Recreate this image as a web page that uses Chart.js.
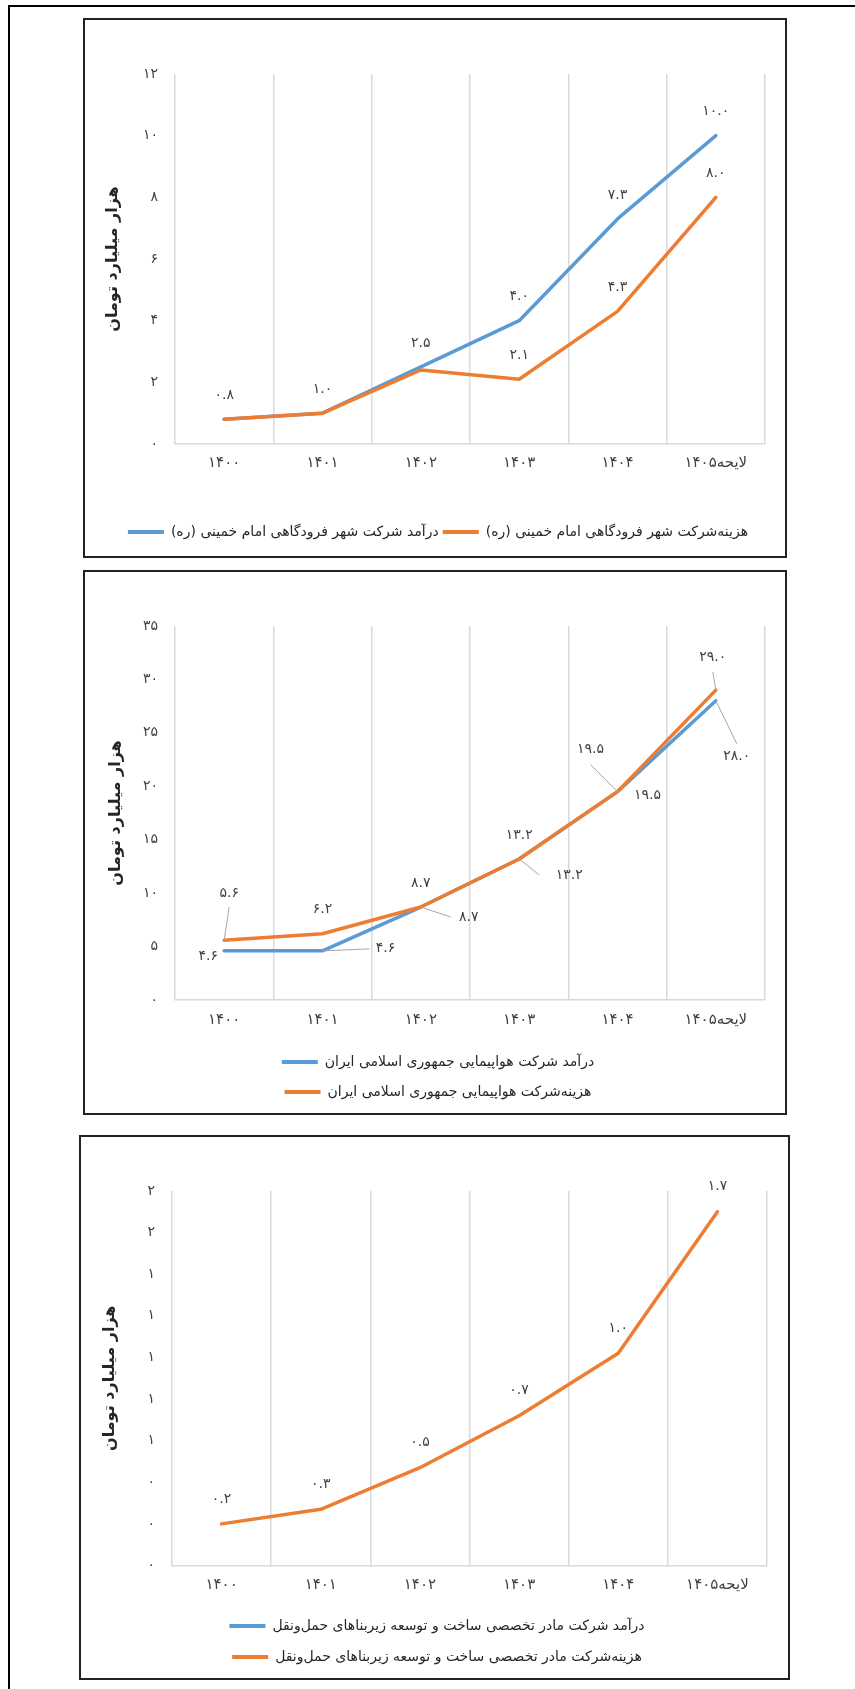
<!DOCTYPE html>
<html>
<head>
<meta charset="utf-8">
<script src="https://cdn.jsdelivr.net/npm/chart.js@4.4.1/dist/chart.umd.min.js"></script>
<style>
  body { margin: 0; background: #fff; width: 855px; height: 1689px; position: relative; overflow: hidden; }
  .frame { position: absolute; left: 8px; top: 5px; width: 900px; height: 1750px; border-left: 2px solid #000; border-top: 2px solid #000; }
  .box { position: absolute; border: 2px solid #222; box-sizing: border-box; background: #fff; }
  .box canvas { display: block; }
</style>
</head>
<body>
<div class="frame"></div>
<div class="box" style="left:83px;top:18px;width:704px;height:540px"><canvas id="chart1" width="700" height="536"></canvas></div>
<div class="box" style="left:83px;top:570px;width:704px;height:545px"><canvas id="chart2" width="700" height="541"></canvas></div>
<div class="box" style="left:79px;top:1135px;width:711px;height:545px"><canvas id="chart3" width="707" height="541"></canvas></div>
<script>
// categories (years), the last one is the budget bill
const years = ['۱۴۰۰', '۱۴۰۱', '۱۴۰۲', '۱۴۰۳', '۱۴۰۴', 'لایحه۱۴۰۵'];
const yAxisTitle = 'هزار میلیارد تومان';

// chart 1 - Imam Khomeini airport city company
const ikaNames = ['درآمد شرکت شهر فرودگاهی امام خمینی (ره)', 'هزینه‌شرکت شهر فرودگاهی امام خمینی (ره)'];
const ikaRevenue = [0.8, 1.0, 2.5, 4.0, 7.3, 10.0];
const ikaCost = [0.8, 1.0, 2.4, 2.1, 4.3, 8.0];
const ikaTicks = { max: 12, step: 2 };

// chart 2 - Iran Air
const iranAirNames = ['درآمد شرکت هواپیمایی جمهوری اسلامی ایران', 'هزینه‌شرکت هواپیمایی جمهوری اسلامی ایران'];
const iranAirRevenue = [4.6, 4.6, 8.7, 13.2, 19.5, 28.0];
const iranAirCost = [5.6, 6.2, 8.7, 13.2, 19.5, 29.0];
const iranAirTicks = { max: 35, step: 5 };

// chart 3 - transport infrastructure company (revenue line is empty)
const infraNames = ['درآمد شرکت مادر تخصصی ساخت و توسعه زیربناهای حمل‌ونقل', 'هزینه‌شرکت مادر تخصصی ساخت و توسعه زیربناهای حمل‌ونقل'];
const infraRevenue = [null, null, null, null, null, null];
const infraCost = [0.2, 0.27, 0.47, 0.72, 1.02, 1.7];
const infraTicks = { max: 1.8, step: 0.2 };

const FONT = '"DejaVu Sans", sans-serif';
const BLUE = '#5B9BD5';
const ORANGE = '#ED7D31';

function fa(s) {
  return String(s).replace(/\d/g, d => '۰۱۲۳۴۵۶۷۸۹'[d]);
}

function lineDataset(label, data, color, order) {
  return {
    label: label, data: data, borderColor: color, backgroundColor: color,
    borderWidth: 3.5, pointRadius: 0, pointHoverRadius: 0, tension: 0,
    borderCapStyle: 'round', borderJoinStyle: 'round', order: order
  };
}

// value labels with optional leader lines
function valueLabels(lab) {
  return {
    id: 'valueLabels',
    afterDatasetsDraw(chart) {
      const ctx = chart.ctx;
      ctx.save();
      ctx.font = '14px ' + FONT;
      ctx.fillStyle = '#404040';
      ctx.textAlign = 'center';
      ctx.textBaseline = 'middle';
      chart.data.datasets.forEach((ds, di) => {
        const meta = chart.getDatasetMeta(di);
        meta.data.forEach((pt, i) => {
          if (!lab.show[di][i] || ds.data[i] == null) return;
          const off = lab.offsets[di][i];
          const lead = lab.leaders && lab.leaders[di][i];
          if (lead) {
            ctx.strokeStyle = '#a6a6a6';
            ctx.lineWidth = 1;
            ctx.beginPath();
            ctx.moveTo(pt.x, pt.y);
            ctx.lineTo(pt.x + lead[0], pt.y + lead[1]);
            ctx.stroke();
          }
          ctx.fillText(fa(ds.data[i].toFixed(1)), pt.x + off[0], pt.y + off[1]);
        });
      });
      ctx.restore();
    }
  };
}

function makeChart(id, names, revenue, cost, ticks, c) {
  return new Chart(document.getElementById(id), {
    type: 'line',
    data: {
      labels: years,
      datasets: [lineDataset(names[0], revenue, BLUE, 2), lineDataset(names[1], cost, ORANGE, 1)]
    },
    options: {
      responsive: false,
      animation: false,
      devicePixelRatio: 1,
      events: [],
      layout: { padding: { left: 26, right: c.right, top: 54, bottom: c.bottom } },
      plugins: {
        tooltip: { enabled: false },
        legend: {
          position: 'bottom',
          reverse: true,
          textDirection: 'rtl',
          labels: {
            font: { family: FONT, size: 14 },
            color: '#262626',
            boxWidth: 36,
            boxHeight: 4,
            padding: c.legendPad,
            generateLabels(chart) {
              return Chart.defaults.plugins.legend.labels.generateLabels(chart).map(l => {
                l.lineWidth = 0;
                l.fillStyle = l.strokeStyle;
                return l;
              });
            }
          }
        }
      },
      scales: {
        x: {
          offset: true,
          grid: { offset: true, color: '#d9d9d9', lineWidth: 1.5, drawTicks: false },
          border: { color: '#d9d9d9', width: 1.5 },
          ticks: { padding: c.xPad, font: { family: FONT, size: 15 }, color: '#404040', maxRotation: 0, autoSkip: false },
          afterFit(s) { s.height = c.xHeight; }
        },
        y: {
          min: 0,
          max: ticks.max,
          grid: { display: false, drawTicks: false },
          border: { display: false },
          ticks: {
            stepSize: ticks.step,
            padding: 17,
            font: { family: FONT, size: 14 },
            color: '#404040',
            callback: v => fa(Math.round(v))
          },
          title: {
            display: true,
            text: yAxisTitle,
            font: { family: FONT, size: 16, weight: 'bold' },
            color: '#262626',
            padding: { top: c.titlePad, bottom: 0 }
          },
          afterFit(s) { s.width = c.yWidth; }
        }
      }
    },
    plugins: [valueLabels(c.labels)]
  });
}

const up = [0, -24];

makeChart('chart1', ikaNames, ikaRevenue, ikaCost, ikaTicks, {
  right: 20, bottom: 7, legendPad: 4, xPad: 10, xHeight: 77, yWidth: 64, titlePad: -7.6,
  labels: {
    show: [[1, 1, 1, 1, 1, 1], [0, 0, 0, 1, 1, 1]],
    offsets: [[up, up, up, up, up, up], [up, up, up, up, up, up]]
  }
});

makeChart('chart2', iranAirNames, iranAirRevenue, iranAirCost, iranAirTicks, {
  right: 20, bottom: 4, legendPad: 16, xPad: 11, xHeight: 39, yWidth: 64, titlePad: -4.8,
  labels: {
    show: [[1, 1, 1, 1, 1, 1], [1, 1, 1, 1, 1, 1]],
    offsets: [
      [[-16, 6], [63, -2], [48, 10], [50, 16], [30, 4], [21, 56]],
      [[5, -47], up, up, up, [-27, -42], [-3, -33]]
    ],
    leaders: [
      [null, [47, -2], [30, 10], [20, 16], null, [21, 43]],
      [[5, -33], null, null, null, [-27, -27], [-3, -18]]
    ]
  }
});

makeChart('chart3', infraNames, infraRevenue, infraCost, infraTicks, {
  right: 21, bottom: 4, legendPad: 17, xPad: 11, xHeight: 36.5, yWidth: 65, titlePad: -6.8,
  labels: {
    show: [[0, 0, 0, 0, 0, 0], [1, 1, 1, 1, 1, 1]],
    offsets: [[up, up, up, up, up, up], [[0, -25], [0, -25], [0, -25], [0, -25], [0, -25], [0, -25]]]
  }
});
</script>
</body>
</html>
